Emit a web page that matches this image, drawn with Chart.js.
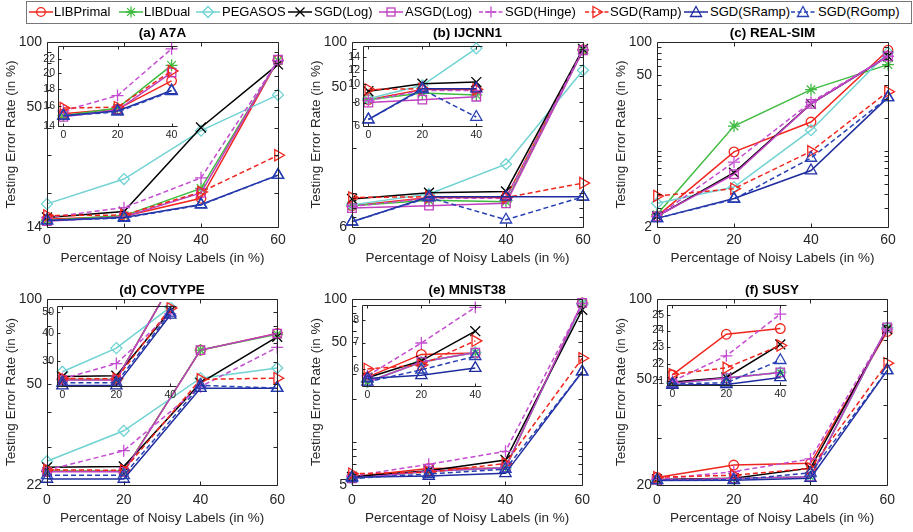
<!DOCTYPE html>
<html>
<head>
<meta charset="utf-8">
<title>Testing Error Rate vs Noisy Labels</title>
<script src="https://cdn.jsdelivr.net/npm/chart.js"></script>
<style>
  html, body { margin: 0; padding: 0; background: #fff; }
  #page { position: relative; width: 913px; height: 532px; overflow: hidden; font-family: "Liberation Sans", Arial, sans-serif; }
  #page canvas { position: absolute; }
  #legend { position: absolute; left: 26px; top: 1px; width: 884px; height: 21px; border: 1px solid #777; background: #fff; z-index: 5; }
  .item { position: absolute; top: 0; height: 21px; }
  .item svg { position: absolute; left: 0; top: 3px; }
  .item span { position: absolute; top: 1px; font-size: 13px; line-height: 17px; color: #000; white-space: nowrap; }
</style>
</head>
<body>
<div id="page">
  <div id="legend"></div>
</div>
<script>
// noise levels on the x axis (main plots and the zoomed insets)
const noiseLevels = [0, 20, 40, 60];
const insetLevels = [0, 20, 40];
const methods = ['LIBPrimal', 'LIBDual', 'PEGASOS', 'SGD(Log)', 'ASGD(Log)', 'SGD(Hinge)', 'SGD(Ramp)', 'SGD(SRamp)', 'SGD(RGomp)'];

// testing error rate (%), one row per method, one column per noise level
const a7aErr = [
  [15.2, 15.7, 19.0, 82.5],
  [15.0, 15.8, 21.1, 82.0],
  [17.9, 23.3, 39.0, 57.0],
  [15.5, 16.5, 40.3, 78.8],
  [14.9, 15.6, 20.1, 83.0],
  [15.5, 17.2, 23.6, 82.0],
  [15.8, 15.9, 20.3, 30.0],
  [15.0, 15.5, 17.8, 24.3],
  [15.0, 15.4, 17.7, 24.3]
];
const ijcnn1Err = [
  [8.3, 9.4, 9.4, 89],
  [8.3, 9.0, 8.8, 88],
  [8.4, 9.9, 15.6, 65],
  [9.2, 10.1, 10.3, 90],
  [8.0, 8.3, 8.6, 88],
  [8.2, 9.3, 9.3, 89],
  [9.4, 9.5, 9.4, 11.7],
  [6.5, 9.5, 9.5, 9.5],
  [6.5, 9.4, 6.7, 9.5]
];
const realsimErr = [
  [2.5, 9.8, 18.4, 84],
  [2.6, 16.9, 36.5, 62],
  [3.3, 4.65, 15.5, 80],
  [2.5, 6.3, 27, 74],
  [2.5, 6.1, 27, 74],
  [2.5, 7.9, 28, 74],
  [3.85, 4.5, 9.9, 35],
  [2.4, 3.65, 6.6, 31],
  [2.4, 3.6, 8.6, 31]
];
const covtypeErr = [
  [24.6, 24.6, 66, 75.5],
  [24.6, 24.6, 66, 75],
  [26.7, 34.2, 52.5, 57],
  [25.4, 25.6, 50.5, 73.5],
  [24.5, 24.5, 66, 75.5],
  [24.8, 29.1, 49, 67.4],
  [24.9, 24.8, 52, 52.5],
  [23.1, 23.1, 48.4, 48.4],
  [23.8, 23.8, 49.5, 48.4]
];
const mnist38Err = [
  [5.72, 6.53, 6.58, 94],
  [5.56, 6.25, 6.6, 93],
  [5.56, 6.25, 6.6, 92],
  [5.70, 6.29, 7.48, 84],
  [5.56, 6.25, 6.6, 94],
  [5.76, 6.98, 8.6, 93],
  [6.0, 6.14, 7.07, 38.5],
  [5.67, 5.78, 6.03, 31],
  [5.56, 5.97, 6.46, 31]
];
const susyErr = [
  [21.36, 23.77, 24.13, 75.5],
  [20.9, 21.18, 21.5, 78],
  [20.9, 21.18, 21.5, 78],
  [20.97, 21.22, 23.14, 77],
  [20.9, 21.18, 21.5, 78.2],
  [21.0, 22.46, 25.06, 77],
  [21.4, 21.76, 23.08, 57.4],
  [20.8, 20.83, 21.22, 53.9],
  [20.87, 20.92, 22.2, 53.9]
];

const panelTitles = ['(a) A7A', '(b) IJCNN1', '(c) REAL-SIM', '(d) COVTYPE', '(e) MNIST38', '(f) SUSY'];
const panelErr = [a7aErr, ijcnn1Err, realsimErr, covtypeErr, mnist38Err, susyErr];
const yAxisMin = [14, 6, 2, 22, 5, 20];
const yAxisLabels = [[14, 50, 100], [6, 50, 100], [2, 50, 100], [22, 50, 100], [5, 50, 100], [20, 50, 100]];
const insetYRange = [[14, 24], [6, 16], null, [23, 53], [5.43, 8.7], [20.8, 25.65]];
const insetYLabels = [[14, 16, 18, 20, 22], [6, 8, 10, 12, 14], null, [30, 40, 50], [6, 7, 8], [21, 22, 23, 24, 25]];
const insetSkip = [[2, 3], [], null, [], [], []];

// styles
const lineColors = ['#f0261e', '#3fbb3f', '#70d2d2', '#000000', '#bf3fbf', '#c44cd0', '#f0261e', '#1f2c9e', '#2840b4'];
const dashedLine = [false, false, false, false, false, true, true, false, true];
const markerStyle = ['circle', 'star', 'rectRot', 'crossRot', 'rect', 'cross', 'triangle', 'triangle', 'triangle'];
const markerTurn = [0, 0, 0, 0, 0, 0, 90, 0, 0];
const markerRadius = [4.8, 6, 5.5, 7, 6, 6, 6.5, 6.5, 6.5];

// layout (pixels)
const PLOT_W = 231;
const colLeft = [47, 352, 657];
const rowTop = [42, 299];
const rowH = [185, 186];
const xAxisH = [39, 41];
const xTickPad = [5, 7];
const insetBox = [[58, 43, 177, 126], [363, 43, 482, 126], null, [57, 303, 176, 386], [362, 302, 481, 386], [667, 302, 786, 385]];
const legendLineX = [29, 119, 196, 288, 379, 479, 585, 684, 791];
const legendTextX = [54, 144, 222, 314, 405, 505, 610, 710, 818];

Chart.defaults.font.family = '"Liberation Sans", Arial, sans-serif';
Chart.defaults.color = '#262626';

function makeDatasets(rows, levels, skip, clip) {
  return methods.map((name, i) => ({
    label: name,
    data: levels.map((x, j) => ({ x: x, y: rows[i][j] })),
    order: methods.length - i,
    borderColor: lineColors[i],
    backgroundColor: 'rgba(0,0,0,0)',
    borderWidth: 1.5,
    borderDash: dashedLine[i] ? [5, 3] : [],
    pointStyle: markerStyle[i],
    pointRotation: markerTurn[i],
    pointRadius: markerRadius[i],
    pointBorderWidth: 1.3,
    pointBorderColor: lineColors[i],
    pointBackgroundColor: 'rgba(0,0,0,0)',
    tension: 0,
    clip: clip
  })).filter((d, i) => !skip.includes(i));
}

function logMinorTicks(lo, hi) {
  const out = [];
  for (let e = -1; e <= 2; e++) {
    for (let m = 1; m < 10; m++) {
      const v = +(m * Math.pow(10, e)).toPrecision(3);
      if (v > lo && v < hi) out.push(v);
    }
  }
  return out;
}

// box around the plot area plus inward tick marks
function framePlugin(xt, yt, len, rightSide, fillWhite) {
  return {
    id: 'frame',
    beforeDraw(chart) {
      if (!fillWhite) return;
      const a = chart.chartArea, ctx = chart.ctx;
      ctx.save();
      ctx.fillStyle = '#fff';
      ctx.fillRect(a.left, a.top, a.right - a.left, a.bottom - a.top);
      ctx.restore();
    },
    afterDraw(chart) {
      const ctx = chart.ctx, a = chart.chartArea;
      const xs = chart.scales.x, ys = chart.scales.y;
      const l = Math.round(a.left) + 0.5, r = Math.round(a.right) + 0.5;
      const t = Math.round(a.top) + 0.5, b = Math.round(a.bottom) + 0.5;
      ctx.save();
      ctx.strokeStyle = '#262626';
      ctx.lineWidth = 1;
      ctx.beginPath();
      ctx.moveTo(l, t); ctx.lineTo(l, b); ctx.lineTo(r, b);
      ctx.moveTo(l, t); ctx.lineTo(r, t);
      if (rightSide) { ctx.moveTo(r, t); ctx.lineTo(r, b); }
      xt.forEach(v => {
        const px = Math.round(xs.getPixelForValue(v)) + 0.5;
        ctx.moveTo(px, b); ctx.lineTo(px, b - len);
        ctx.moveTo(px, t); ctx.lineTo(px, t + len);
      });
      yt.forEach(v => {
        const py = Math.round(ys.getPixelForValue(v)) + 0.5;
        ctx.moveTo(l, py); ctx.lineTo(l + len, py);
        if (rightSide) { ctx.moveTo(r, py); ctx.lineTo(r - len, py); }
      });
      ctx.stroke();
      ctx.restore();
    }
  };
}

function addCanvas(left, top, w, h) {
  const c = document.createElement('canvas');
  c.width = w; c.height = h;
  c.style.left = left + 'px'; c.style.top = top + 'px';
  c.style.width = w + 'px'; c.style.height = h + 'px';
  document.getElementById('page').appendChild(c);
  return c;
}

// main panels
for (let p = 0; p < 6; p++) {
  const row = Math.floor(p / 3), col = p % 3;
  const L = colLeft[col], T = rowTop[row];
  const cv = addCanvas(L - 44, T - 17, 44 + PLOT_W + 14, 17 + rowH[row] + xAxisH[row]);
  new Chart(cv, {
    type: 'line',
    data: { datasets: makeDatasets(panelErr[p], noiseLevels, [], false) },
    options: {
      responsive: false,
      animation: false,
      events: [],
      layout: { padding: { left: 0, right: 14, top: 0, bottom: 0 } },
      plugins: {
        legend: { display: false },
        tooltip: { enabled: false },
        title: {
          display: true, text: panelTitles[p], fullSize: false, color: '#000',
          font: { size: 13.5, weight: 'bold', lineHeight: 1.2 },
          padding: { top: 0, bottom: 0.8 }
        }
      },
      scales: {
        x: {
          type: 'linear', min: 0, max: 60,
          grid: { display: false, drawTicks: false },
          border: { display: false },
          ticks: { stepSize: 20, font: { size: 14 }, padding: xTickPad[row], maxRotation: 0, autoSkip: false },
          title: { display: true, text: 'Percentage of Noisy Labels (in %)', font: { size: 13.5 }, padding: 0 },
          afterFit: s => { s.height = xAxisH[row]; }
        },
        y: {
          type: 'logarithmic', min: yAxisMin[p], max: 100,
          grid: { display: false, drawTicks: false },
          border: { display: false },
          ticks: { font: { size: 14 }, padding: 5, autoSkip: false, callback: v => String(v) },
          afterBuildTicks: s => { s.ticks = yAxisLabels[p].map(v => ({ value: v })); },
          title: { display: true, text: 'Testing Error Rate (in %)', font: { size: 13.5 }, padding: 0 },
          afterFit: s => { s.width = 44; }
        }
      }
    },
    plugins: [framePlugin(noiseLevels, logMinorTicks(yAxisMin[p], 100), 4, true, false)]
  });
}

// zoomed insets (noise levels 0-40)
for (let p = 0; p < 6; p++) {
  const box = insetBox[p];
  if (!box) continue;
  const [L, T, R, B] = box;
  const cv = addCanvas(L - 22, T - 6, 22 + (R - L) + 8, 6 + (B - T) + 16);
  new Chart(cv, {
    type: 'line',
    data: { datasets: makeDatasets(panelErr[p], insetLevels, insetSkip[p], 4) },
    options: {
      responsive: false,
      animation: false,
      events: [],
      layout: { padding: { left: 0, right: 8, top: 6, bottom: 0 } },
      plugins: { legend: { display: false }, tooltip: { enabled: false }, title: { display: false } },
      scales: {
        x: {
          type: 'linear', min: -2, max: 42,
          grid: { display: false, drawTicks: false },
          border: { display: false },
          ticks: { font: { size: 10.5 }, padding: 3, maxRotation: 0, autoSkip: false },
          afterBuildTicks: s => { s.ticks = insetLevels.map(v => ({ value: v })); },
          afterFit: s => { s.height = 16; }
        },
        y: {
          type: 'logarithmic', min: insetYRange[p][0], max: insetYRange[p][1],
          grid: { display: false, drawTicks: false },
          border: { display: false },
          ticks: { font: { size: 10.5 }, padding: 3, autoSkip: false, callback: v => String(v) },
          afterBuildTicks: s => { s.ticks = insetYLabels[p].map(v => ({ value: v })); },
          afterFit: s => { s.width = 22; }
        }
      }
    },
    plugins: [framePlugin(insetLevels, insetYLabels[p], 3, false, true)]
  });
}

// legend
function iconSvg(i) {
  const c = lineColors[i];
  const dash = dashedLine[i] ? ' stroke-dasharray="4 2.5"' : '';
  let shape = '';
  switch (markerStyle[i]) {
    case 'circle': shape = '<circle cx="12" cy="7" r="4.3"/>'; break;
    case 'star': shape = '<path d="M12 1.5V12.5M6.5 7H17.5M8.1 3.1L15.9 10.9M15.9 3.1L8.1 10.9"/>'; break;
    case 'rectRot': shape = '<path d="M12 1.5L17.5 7L12 12.5L6.5 7Z"/>'; break;
    case 'crossRot': shape = '<path d="M7.5 2.5L16.5 11.5M16.5 2.5L7.5 11.5"/>'; break;
    case 'rect': shape = '<rect x="8" y="3" width="8" height="8"/>'; break;
    case 'cross': shape = '<path d="M12 1.5V12.5M6.5 7H17.5"/>'; break;
    case 'triangle':
      shape = markerTurn[i] ? '<path d="M8 1.5L17.5 7L8 12.5Z"/>' : '<path d="M12 1.5L17.5 11.5H6.5Z"/>';
      break;
  }
  return '<svg width="24" height="14" viewBox="0 0 24 14"><line x1="0" y1="7" x2="24" y2="7" stroke="' + c +
    '" stroke-width="1.5"' + dash + '/><g fill="none" stroke="' + c + '" stroke-width="1.3">' + shape + '</g></svg>';
}

const legend = document.getElementById('legend');
methods.forEach((name, i) => {
  const it = document.createElement('div');
  it.className = 'item';
  it.style.left = (legendLineX[i] - 27) + 'px';
  it.innerHTML = iconSvg(i) + '<span style="left:' + (legendTextX[i] - legendLineX[i]) + 'px">' + name + '</span>';
  legend.appendChild(it);
});
</script>
</body>
</html>
